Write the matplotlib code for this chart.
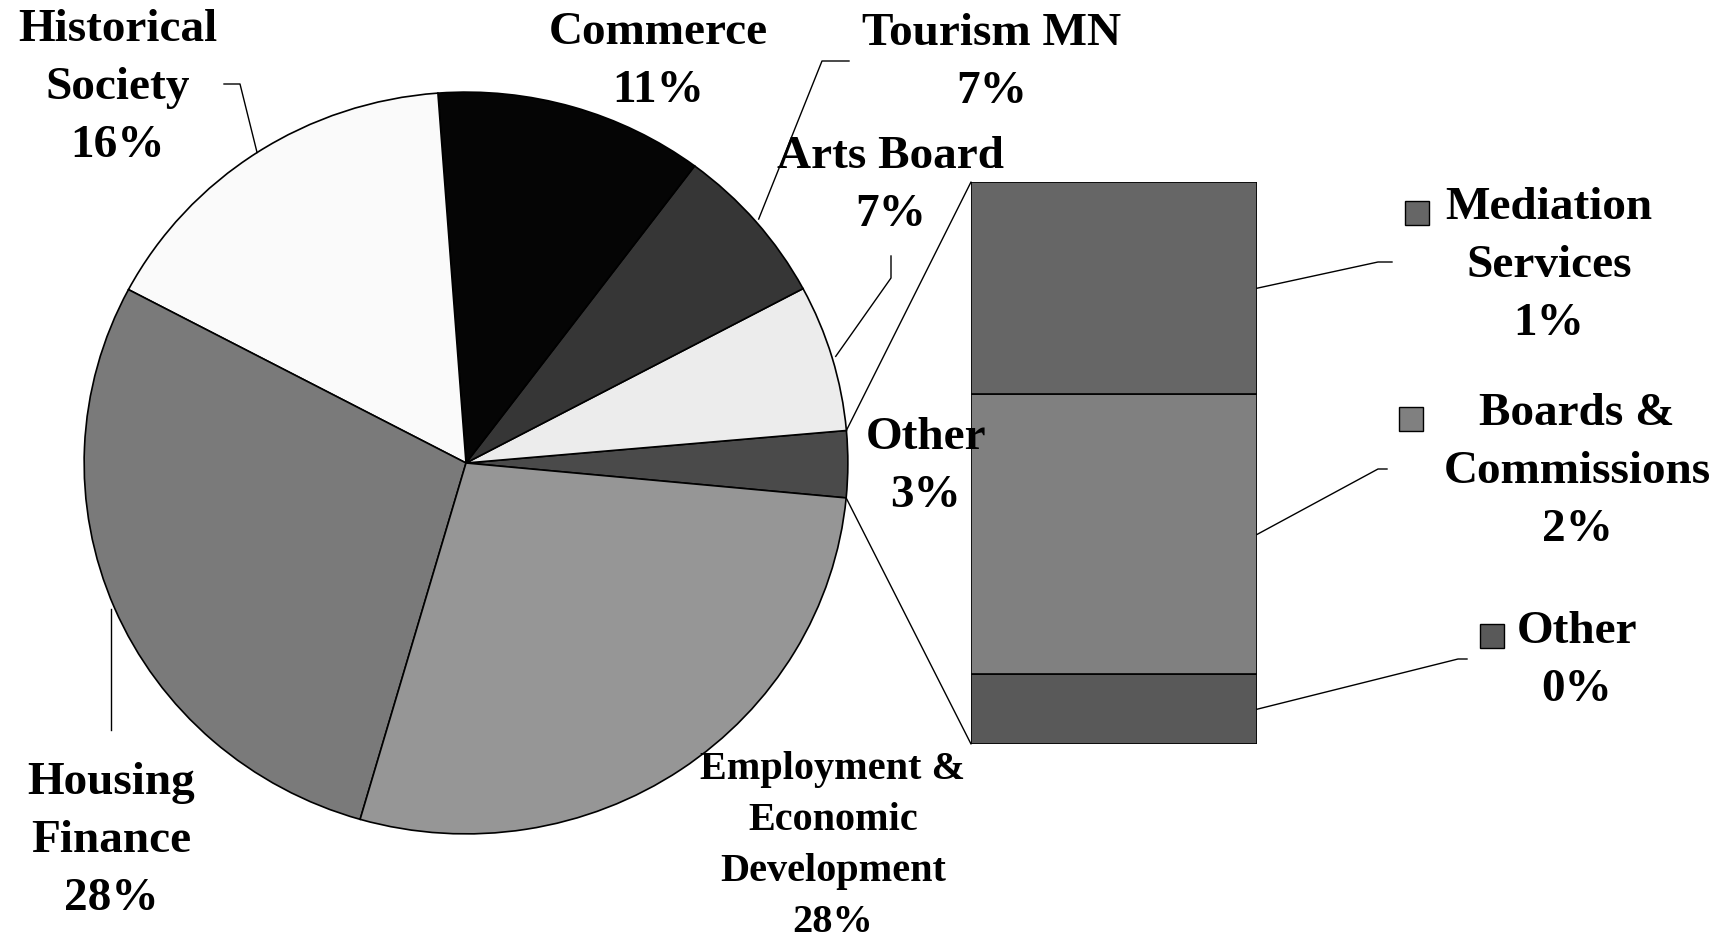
import numpy as np
import matplotlib
matplotlib.use("Agg")
import matplotlib.pyplot as plt
from matplotlib.patches import ConnectionPatch, Rectangle

plt.rcParams['font.family'] = ['Liberation Serif', 'DejaVu Serif']
plt.rcParams['font.weight'] = 'bold'

# pie data (counter-clockwise from the "Other" slice)
pie_labels = ['Other', 'Arts Board', 'Tourism MN', 'Commerce',
              'Historical Society', 'Housing Finance',
              'Employment & Economic Development']
pie_values = [2.9, 6.4, 7.0, 11.4, 16.1, 28.3, 28.0]
pie_colors = ['#4a4a4a', '#ececec', '#363636', '#050505',
              '#fafafa', '#7a7a7a', '#969696']

# breakdown of "Other" (bottom to top)
bar_labels = ['Other', 'Boards & Commissions', 'Mediation Services']
bar_values = [0.36, 1.45, 1.1]
bar_colors = ['#595959', '#808080', '#666666']
bar_pct = ['0%', '2%', '1%']

W, H = 1729, 943
fig = plt.figure(figsize=(W / 100, H / 100), dpi=100)

# pie axes (slightly squashed ellipse, like the original)
cx, cy, rx, ry = 466, 463, 383, 372
ax_pie = fig.add_axes([(cx - rx) / W, (H - cy - ry) / H, 2 * rx / W, 2 * ry / H])
wedges, _ = ax_pie.pie(pie_values, colors=pie_colors, startangle=-5.4,
                       counterclock=True,
                       wedgeprops=dict(edgecolor='black', linewidth=1.2))
ax_pie.set_aspect('auto')
ax_pie.set_xlim(-1.003, 1.003)
ax_pie.set_ylim(-1.003, 1.003)
ax_pie.axis('off')

# bar axes
bx0, by0, bx1, by1 = 971, 182, 1257, 744
ax_bar = fig.add_axes([bx0 / W, (H - by1) / H, (bx1 - bx0) / W, (by1 - by0) / H])
bottom = 0
mids = []
for v, c in zip(bar_values, bar_colors):
    ax_bar.bar(0, v, bottom=bottom, width=1, color=c, edgecolor='black', linewidth=1.2)
    mids.append(bottom + v / 2)
    bottom += v
ax_bar.set_xlim(-0.5, 0.5)
ax_bar.set_ylim(0, bottom)
ax_bar.axis('off')

# overlay axes in pixel coordinates for labels & leader lines
ov = fig.add_axes([0, 0, 1, 1], zorder=5)
ov.set_xlim(0, W)
ov.set_ylim(H, 0)
ov.axis('off')
ov.patch.set_visible(False)


def to_ov(ax, xy):
    d = ax.transData.transform(xy)
    return ov.transData.inverted().transform(d)


def pie_pt(i, r=1.0):
    w = wedges[i]
    t = np.deg2rad((w.theta1 + w.theta2) / 2)
    return to_ov(ax_pie, (r * np.cos(t), r * np.sin(t)))


# connector lines from "Other" slice to the bar
w0 = wedges[0]
for th, yb in [(w0.theta2, bottom), (w0.theta1, 0)]:
    t = np.deg2rad(th)
    con = ConnectionPatch(xyA=(np.cos(t), np.sin(t)), coordsA=ax_pie.transData,
                          xyB=(-0.5, yb), coordsB=ax_bar.transData,
                          color='black', linewidth=1.0)
    fig.add_artist(con)

fs = 34


def label(x, y, s, size=fs, ls=1.5):
    ov.text(x, y, s, ha='center', va='center', fontsize=size, fontweight='bold',
            linespacing=ls, color='black')


def leader(pts):
    xs = [p[0] for p in pts]
    ys = [p[1] for p in pts]
    ov.plot(xs, ys, color='black', linewidth=1.0)


# pie labels
label(118, 88, 'Historical\nSociety\n16%')
label(658, 62, 'Commerce\n11%')
label(992, 63, 'Tourism MN\n7%')
label(891, 186, 'Arts Board\n7%')
label(926, 467, 'Other\n3%')
label(111, 841, 'Housing\nFinance\n28%')
label(833, 846, 'Employment &\nEconomic\nDevelopment\n28%', size=29, ls=1.5)

# pie leader lines
p = pie_pt(4)
leader([p, (240, 84), (224, 84)])
p = pie_pt(2, 1.01)
leader([p, (822, 61), (849, 61)])
p = pie_pt(1, 1.01)
leader([p, (891, 278), (891, 256)])
p = pie_pt(5, 1.01)
leader([p, (p[0], 730)])

# bar labels with legend squares
sq = 24
bar_text = {
    'Mediation Services': ((1549, 266), 'Mediation\nServices\n1%', (1405, 201),
                           [(1378, 262), (1392, 262)]),
    'Boards & Commissions': ((1577, 472), 'Boards &\nCommissions\n2%', (1399, 407),
                             [(1378, 469), (1387, 469)]),
    'Other': ((1577, 661), 'Other\n0%', (1480, 624),
              [(1458, 659), (1467, 659)]),
}
for lab, mid, c in zip(bar_labels, mids, bar_colors):
    (tx, ty), s, (sx, sy), elbow = bar_text[lab]
    label(tx, ty, s)
    ov.add_patch(Rectangle((sx, sy), sq, sq, facecolor=c, edgecolor='black', linewidth=1.0))
    start = to_ov(ax_bar, (0.5, mid))
    leader([start] + elbow)

fig.savefig('out.png', dpi=100, facecolor='white')
